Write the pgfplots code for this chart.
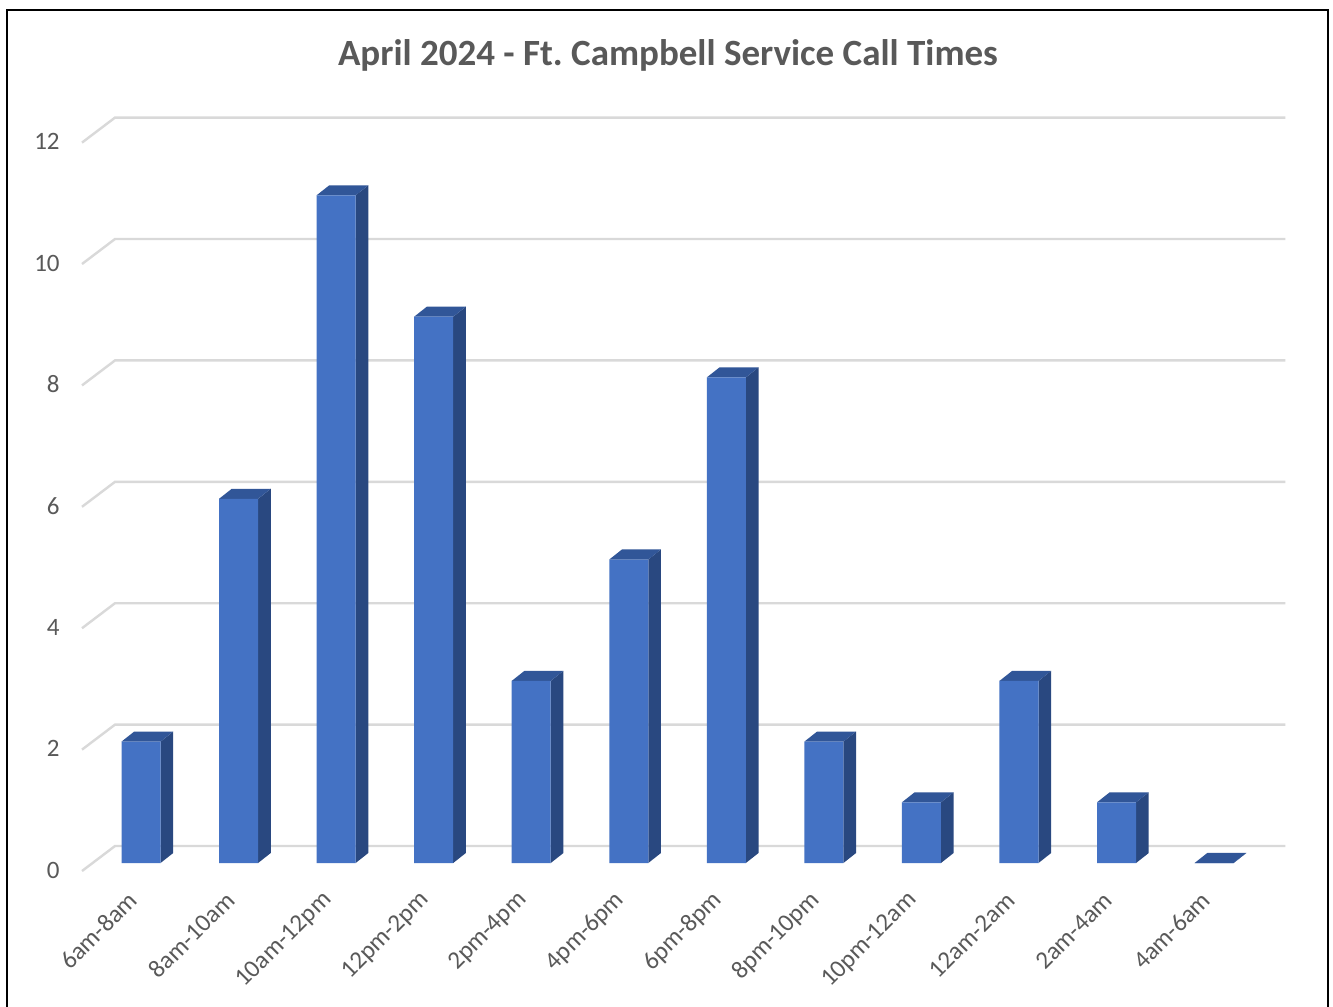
\documentclass[border=0pt]{standalone}
\usepackage{pgfplots}
\pgfplotsset{compat=1.18}
\usepackage{pgfplotstable}
\usepackage{fontspec}
\setmainfont{Carlito}

\definecolor{barfront}{RGB}{68,114,196}
\definecolor{barside}{RGB}{41,72,128}
\definecolor{bartop}{RGB}{49,86,152}
\definecolor{gridc}{RGB}{217,217,217}
\definecolor{textc}{RGB}{89,89,89}

% service calls per two-hour slot
\pgfplotstableread{
idx calls
0 2
1 6
2 11
3 9
4 3
5 5
6 8
7 2
8 1
9 3
10 1
11 0
}\calls

% faces of a bar, relative to its centre; y = a + b*value
\pgfplotstableread{
x a b
0.2 0 0
0.33 0.165 0
0.33 0.165 1
0.2 0 1
}\sideface
\pgfplotstableread{
x a b
-0.2 0 1
0.2 0 1
0.33 0.165 1
-0.07 0.165 1
}\topface
% one grid line: front floor edge, then along the back wall
\pgfplotstableread{
x y
-0.605 -0.132
-0.2665 0.28
11.73 0.28
}\gridshape

\begin{document}
\frenchspacing
\begin{tikzpicture}
\useasboundingbox (0,0) rectangle (666.5bp,-503.5bp);
\fill[white] (0,0) rectangle (666.5bp,-503.5bp);
\draw[black, line width=1.1bp] (3.5bp,-510bp) -- (3.5bp,-5bp) -- (664bp,-5bp) -- (664bp,-510bp);
\node[anchor=base, text=textc, font=\fontsize{18.5bp}{22bp}\selectfont\bfseries]
  at (334bp,-32.5bp) {April 2024 - Ft. Campbell Service Call Times};

\begin{axis}[
  at={(41bp,-437.57bp)}, anchor=south west,
  scale only axis, width=601.65bp, height=385.45bp,
  xmin=-0.605, xmax=11.73, ymin=-0.2, ymax=12.5,
  clip=false,
  axis line style={draw=none}, tick style={draw=none}, major tick length=0pt,
  ticklabel style={font=\fontsize{12.5bp}{15bp}\selectfont, text=textc},
  ytick={0,2,...,12}, yticklabels={0,2,4,6,8,10,12},
  yticklabel style={anchor=east, inner sep=0pt, xshift=-11bp, yshift=-3.5bp},
  xtick={0,...,11},
  xticklabels={6am-8am,8am-10am,10am-12pm,12pm-2pm,2pm-4pm,4pm-6pm,6pm-8pm,8pm-10pm,10pm-12am,12am-2am,2am-4am,4am-6am},
  xticklabel style={rotate=45, anchor=east, inner sep=0pt, xshift=-10.25bp, yshift=-4.6bp},
]
\pgfplotsinvokeforeach{0,2,...,12}{
  \addplot[gridc, line width=1.2bp, forget plot] table[x=x, y expr=\thisrow{y}+#1]{\gridshape};
}
\pgfplotsinvokeforeach{0,...,11}{
  \pgfplotstablegetelem{#1}{calls}\of\calls
  \let\v\pgfplotsretval
  \addplot[fill=barside, draw=none, forget plot] table[x expr=\thisrow{x}+#1, y expr=\thisrow{a}+\thisrow{b}*\v]{\sideface};
  \addplot[fill=bartop, draw=none, forget plot] table[x expr=\thisrow{x}+#1, y expr=\thisrow{a}+\thisrow{b}*\v]{\topface};
}
\addplot[ybar, bar width=0.4, bar shift=0pt, fill=barfront, draw=none] table[x=idx, y=calls]{\calls};
\end{axis}
\end{tikzpicture}
\end{document}
